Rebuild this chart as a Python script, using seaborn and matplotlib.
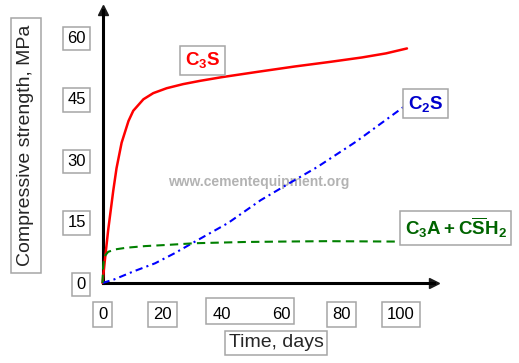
import matplotlib
matplotlib.use("Agg")
import seaborn as sns
from matplotlib import pyplot as plt
from matplotlib.patches import Rectangle

# strength development curves (days, MPa)
c3s_days = [0, 0.8, 1.9, 3.6, 4.7, 6.4, 8.7, 10.3, 13.7, 17, 21.5, 27, 32.7, 40,
            52, 64.4, 76, 86.9, 95, 102]
c3s_mpa = [0, 5.6, 12.9, 22.5, 28, 34.2, 39.5, 42, 44.8, 46.3, 47.5, 48.5, 49.3, 50.2,
           51.5, 52.8, 53.9, 55, 56, 57.2]

c2s_days = [0, 4, 10.3, 17.6, 24, 31, 42, 53, 63, 72, 85, 101]
c2s_mpa = [0, 0.9, 2.8, 4.8, 7.2, 10.1, 14.6, 20.2, 24.5, 28.3, 34.5, 43]

c3a_days = [0, 0.2, 0.5, 1.0, 1.9, 4.3, 8, 14.3, 22, 31, 47.7, 60, 75, 99]
c3a_mpa = [0, 4, 5.8, 6.8, 7.6, 8.2, 8.6, 9.0, 9.3, 9.7, 10, 10.1, 10.2, 10.1]

x_ticks = [0, 20, 40, 60, 80, 100]
y_ticks = [0, 15, 30, 45, 60]

BOX_GRAY = "#a6a6a6"

sns.set_theme(style="white")
plt.rcParams["font.family"] = ["Liberation Sans", "DejaVu Sans"]
plt.rcParams["mathtext.fontset"] = "custom"
plt.rcParams["mathtext.rm"] = "Liberation Sans"
plt.rcParams["mathtext.bf"] = "Liberation Sans:bold"

fig = plt.figure(figsize=(5.19, 3.63), dpi=100)
ax = fig.add_axes([0.1975, 0.2204, 0.6384, 0.7512])

line_kw = dict(ax=ax, clip_on=False, zorder=4, solid_joinstyle="round")
sns.lineplot(x=c3s_days, y=c3s_mpa, color="#ff0000", linewidth=1.8, **line_kw)
sns.lineplot(x=c2s_days, y=c2s_mpa, color="#0000ff", linewidth=1.5,
             linestyle=(0, (3.5, 2, 1, 2)), **line_kw)
sns.lineplot(x=c3a_days, y=c3a_mpa, color="#008000", linewidth=1.5,
             linestyle=(0, (4, 2.5)), **line_kw)

ax.set_xlim(0, 111)
ax.set_ylim(0, 66.5)
for side in ("top", "right"):
    ax.spines[side].set_visible(False)
for side in ("left", "bottom"):
    ax.spines[side].set_linewidth(2.2)
    ax.spines[side].set_color("black")

# arrow heads on the axes
ax.plot(1, 0, ">k", markersize=7, transform=ax.get_yaxis_transform(), clip_on=False)
ax.plot(0, 1, "^k", markersize=7, transform=ax.get_xaxis_transform(), clip_on=False)

ax.set_xticks(x_ticks)
ax.set_yticks(y_ticks)
ax.set_xticklabels([str(v) for v in x_ticks])
ax.set_yticklabels([str(v) for v in y_ticks])
ax.tick_params(axis="both", direction="inout", length=10, width=1.6, color="black",
               labelsize=12, labelcolor="black")
ax.tick_params(axis="x", pad=12.5)
ax.tick_params(axis="y", pad=7)

box = dict(boxstyle="square,pad=0.25", facecolor="white", edgecolor=BOX_GRAY, linewidth=1.1)
for lbl in ax.get_yticklabels():
    lbl.set_bbox(box)
for lbl in ax.get_xticklabels():
    if lbl.get_text() not in ("40", "60"):
        lbl.set_bbox(dict(box, boxstyle="square,pad=0.3"))
# 40 and 60 share one box in the original
ax.add_patch(Rectangle((34.8, -10.0), 29.4, 6.3, transform=ax.transData, fill=False,
                       edgecolor=BOX_GRAY, linewidth=1.1, clip_on=False))

ax.set_xlabel("Time, days", fontsize=14, va="center", bbox=dict(box, boxstyle="square,pad=0.2"))
ax.xaxis.set_label_coords(0.5237, -0.22)
ax.set_ylabel("Compressive strength, MPa", fontsize=14, va="center",
              bbox=dict(box, boxstyle="square,pad=0.35"))
ax.yaxis.set_label_coords(-0.231, 0.506)

curve_box = dict(boxstyle="square,pad=0.25", facecolor="white", edgecolor=BOX_GRAY, linewidth=1.1)
ax.text(33.5, 54.3, r"$\mathbf{C_3S}$", color="#ff0000", fontsize=13.5,
        ha="center", va="center", bbox=curve_box, zorder=5)
ax.text(108.2, 43.7, r"$\mathbf{C_2S}$", color="#0000cc", fontsize=13.5,
        ha="center", va="center", bbox=curve_box, zorder=5)
ax.text(118.3, 13.4, r"$\mathbf{C_3A + C\overline{S}H_2}$", color="#006400", fontsize=13.5,
        ha="center", va="center", bbox=curve_box, zorder=5)

ax.text(52.3, 24.7, "www.cementequipment.org", color="#b3b3b3", fontsize=10,
        fontweight="bold", ha="center", va="center", zorder=1)

fig.savefig("out.png", dpi=100)
